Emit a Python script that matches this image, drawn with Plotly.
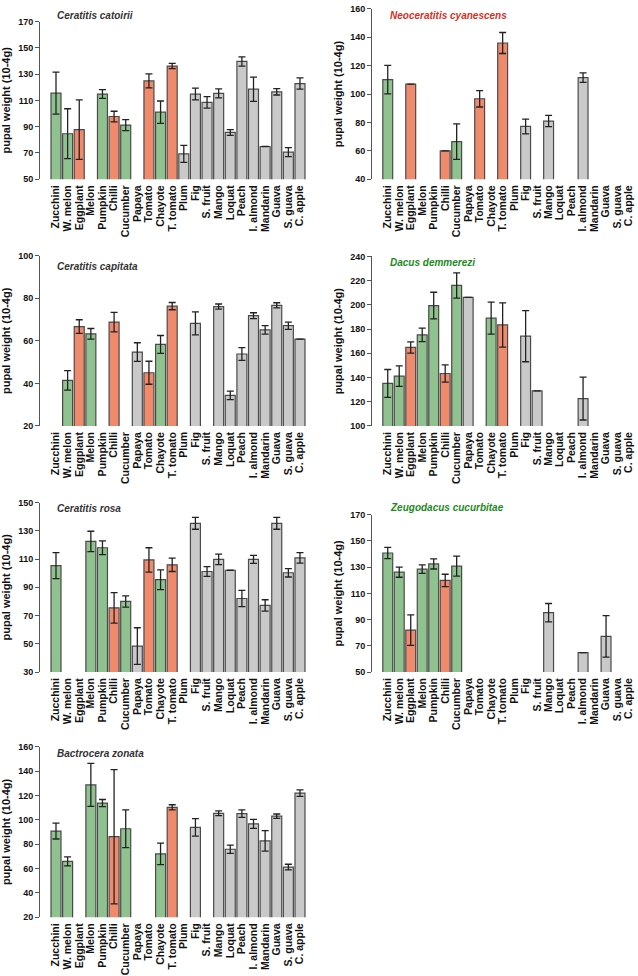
import plotly.graph_objects as go

W, H = 638, 976

hosts = ["Zucchini", "W. melon", "Eggplant", "Melon", "Pumpkin", "Chilli", "Cucumber",
         "Papaya", "Tomato", "Chayote", "T. tomato", "Plum", "Fig", "S. fruit", "Mango",
         "Loquat", "Peach", "I. almond", "Mandarin", "Guava", "S. guava", "C. apple"]
host_group = ["cuc", "cuc", "sol", "cuc", "cuc", "sol", "cuc",
              "oth", "sol", "cuc", "sol", "oth", "oth", "oth", "oth",
              "oth", "oth", "oth", "oth", "oth", "oth", "oth"]

N = None
# ---- pupal weight means and SE per species (10^-4 g) ----
catoirii_mean = [115.5, 84.6, 87.7, N, 114.8, 97.7, 91.2, N, 124.8, 101.0, 136.1, 69.3, 114.8, 108.5,
                 115.3, 85.6, 139.6, 118.5, 74.9, 116.5, 70.6, 122.8]
catoirii_se = [16.0, 19.0, 22.6, N, 3.3, 4.0, 4.2, N, 5.3, 8.5, 2.0, 6.5, 4.5, 4.4,
               3.4, 2.2, 3.5, 9.2, N, 2.4, 3.4, 4.3]

cyanescens_mean = [110.2, N, 107.0, N, N, 60.0, 66.5, N, 96.7, N, 136.0, N, 77.2, N,
                   81.0, N, N, 111.6, N, N, N, N]
cyanescens_se = [10.0, N, N, N, N, N, 12.5, N, 5.8, N, 7.4, N, 5.2, N,
                 4.0, N, N, 3.3, N, N, N, N]

capitata_mean = [N, 41.4, 66.7, 63.3, N, 68.8, N, 54.7, 45.0, 58.3, 76.3, N, 68.2, N,
                 76.1, 34.4, 53.8, 71.8, 65.1, 76.7, 67.1, 60.8]
capitata_se = [N, 4.6, 3.2, 2.5, N, 4.6, N, 4.4, 5.4, 4.2, 1.7, N, 5.4, N,
               1.2, 2.0, 3.0, 1.4, 2.0, 1.2, 1.7, N]

demmerezi_mean = [135.1, 141.1, 164.8, 175.2, 199.4, 143.3, 216.0, 206.2, N, 189.0, 183.4, N, 174.1, 128.9,
                  N, N, N, 122.6, N, N, N, N]
demmerezi_se = [11.5, 8.5, 4.6, 5.5, 11.0, 7.1, 10.4, N, N, 13.2, 18.3, N, 21.1, N,
                N, N, N, 17.7, N, N, N, N]

rosa_mean = [105.4, N, N, 122.5, 118.0, 75.5, 80.0, 48.4, 109.4, 95.4, 105.9, N, 135.3, 101.2,
             109.8, 102.1, 82.1, 109.8, 77.2, 135.3, 100.3, 110.8]
rosa_se = [9.2, N, N, 7.2, 4.9, 10.8, 4.0, 13.0, 8.6, 7.0, 4.7, N, 4.2, 3.5,
           3.7, N, 5.8, 2.8, 4.0, 4.2, 3.0, 3.7]

cucurbitae_mean = [140.8, 126.2, 82.0, 128.5, 132.5, 119.9, 130.8, N, N, N, N, N, N, N,
                   95.3, N, N, 64.8, N, 77.2, N, N]
cucurbitae_se = [4.3, 3.9, 11.6, 3.3, 3.9, 4.7, 7.6, N, N, N, N, N, N, N,
                 7.0, N, N, N, N, 15.8, N, N]

zonata_mean = [90.7, 65.8, N, 128.6, 113.7, 86.1, 92.6, N, N, 72.0, 110.2, N, 93.7, N,
               105.3, 75.8, 105.0, 96.6, 82.6, 102.9, 61.2, 121.8]
zonata_se = [6.5, 3.7, N, 17.6, 2.9, 55.1, 15.5, N, N, 8.8, 2.1, N, 7.2, N,
             1.9, 3.4, 3.1, 3.7, 8.4, 1.8, 2.3, 2.7]

species = [
    # name, title colour, means, se, y-range, column, top px, bottom px, title y px
    ("Ceratitis catoirii", "#333333", catoirii_mean, catoirii_se, (50, 170), 0, 16.7, 176.0, 11),
    ("Neoceratitis cyanescens", "#d7301f", cyanescens_mean, cyanescens_se, (40, 160), 1, 4.0, 176.0, 11),
    ("Ceratitis capitata", "#333333", capitata_mean, capitata_se, (20, 100), 0, 253.3, 425.3, 264),
    ("Dacus demmerezi", "#1e8a1e", demmerezi_mean, demmerezi_se, (100, 240), 1, 254.0, 425.3, 260),
    ("Ceratitis rosa", "#333333", rosa_mean, rosa_se, (30, 150), 0, 502.7, 674.0, 509),
    ("Zeugodacus cucurbitae", "#1e8a1e", cucurbitae_mean, cucurbitae_se, (50, 170), 1, 515.0, 674.0, 508),
    ("Bactrocera zonata", "#333333", zonata_mean, zonata_se, (20, 160), 0, 749.3, 921.7, 756),
]

group_color = {"cuc": "#8fc28f", "sol": "#ef8a6c", "oth": "#c9c9c9"}
bar_colors = [group_color[g] for g in host_group]

col_x = {0: (40, 308, -1.377, 21.69), 1: (372, 635, -1.37, 21.52)}

fig = go.Figure()
annotations = []
layout = {}
FONT = "Liberation Sans, Arial, sans-serif"

for i, (name, tcol, means, ses, yr, col, top, bot, ty) in enumerate(species, start=1):
    xa = "x" if i == 1 else f"x{i}"
    ya = "y" if i == 1 else f"y{i}"
    x0, x1, r0, r1 = col_x[col]
    fig.add_trace(go.Bar(
        x=hosts, y=means, xaxis=xa, yaxis=ya,
        marker=dict(color=bar_colors, line=dict(color="#4a4a4a", width=1.2)),
        error_y=dict(type="data", array=ses, visible=True, color="#222222",
                     thickness=1.3, width=3.5),
        showlegend=False, name=name,
    ))
    layout["xaxis" if i == 1 else f"xaxis{i}"] = dict(
        domain=[x0 / W, x1 / W], anchor=ya, type="category",
        categoryorder="array", categoryarray=hosts,
        tickmode="array", tickvals=hosts, ticktext=hosts,
        range=[r0, r1], tickangle=-90, showgrid=False, zeroline=False,
        showline=False, ticks="", tickfont=dict(family=FONT, size=10.5, color="#111", weight="bold"),
        ticklabelstandoff=3,
    )
    layout["yaxis" if i == 1 else f"yaxis{i}"] = dict(
        domain=[1 - bot / H, 1 - top / H], anchor=xa, range=list(yr),
        tick0=yr[0], dtick=20, showgrid=False, zeroline=False,
        showline=True, linecolor="#555555", linewidth=1, ticks="outside",
        ticklen=4, tickcolor="#555555", tickwidth=1,
        tickfont=dict(family=FONT, size=9, color="#111", weight="bold"),
        title=dict(text="pupal weight (10-4g)", standoff=5,
                   font=dict(family=FONT, size=11, color="#111", weight="bold")),
    )
    annotations.append(dict(
        text=name, xref="paper", yref="paper",
        x=(55 if col == 0 else 388) / W, y=1 - ty / H,
        xanchor="left", yanchor="middle", showarrow=False,
        font=dict(family=FONT, size=10, color=tcol, weight="bold", style="italic"),
    ))

fig.update_layout(
    width=W, height=H, margin=dict(l=0, r=0, t=0, b=0),
    paper_bgcolor="white", plot_bgcolor="white",
    bargap=0.14, annotations=annotations, **layout,
)
fig.write_html("out.html", config={"displayModeBar": False},
               post_script="document.body.style.margin='0';")
